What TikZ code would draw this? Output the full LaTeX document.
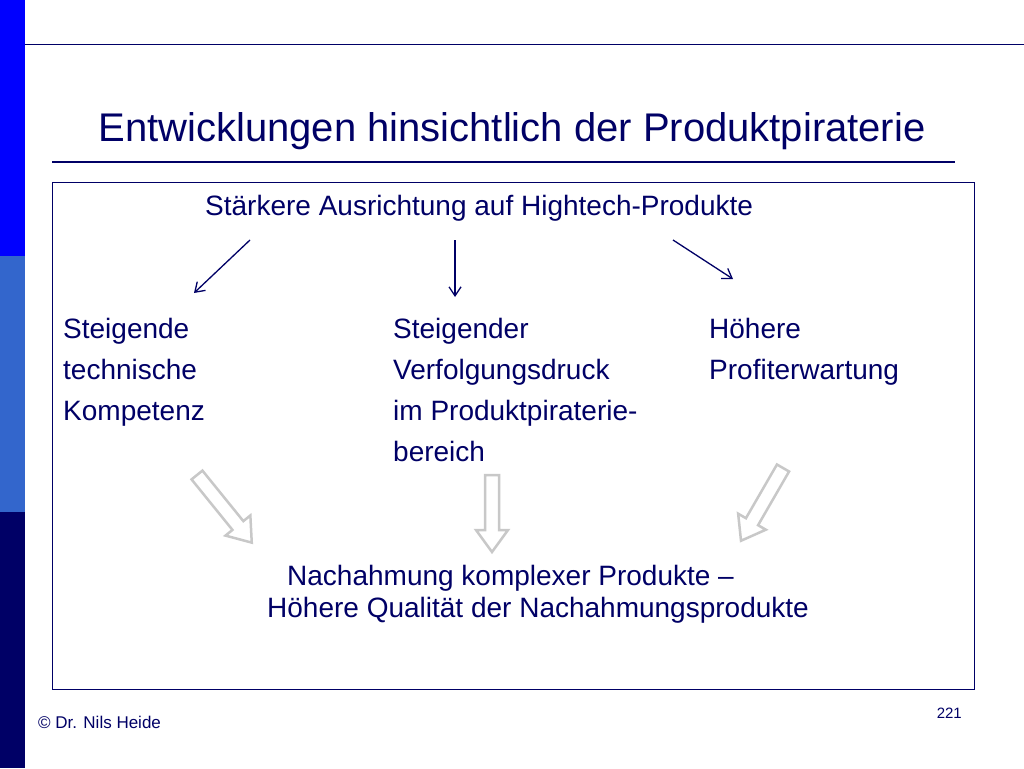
\documentclass[tikz,border=0pt]{standalone}
\usepackage{fontspec}
\setmainfont{Liberation Sans}
\definecolor{navy}{RGB}{0,0,102}
\definecolor{bblue}{RGB}{0,0,255}
\definecolor{mblue}{RGB}{51,102,204}
\definecolor{hgray}{RGB}{200,200,200}
\tikzset{
  txt/.style={anchor=base west,inner sep=0pt,text=navy,font=\fontsize{28}{28}\selectfont},
  thin/.style={draw=navy,line width=1.3pt,-{Straight Barb[length=9pt,width=12pt]}},
  hollow/.style={draw=hgray,line width=2.5pt,fill=white,line join=miter}
}
\usetikzlibrary{arrows.meta}
\newcommand{\hollowarrow}[3]{% start, angle, length
  \begin{scope}[shift={#1},rotate=#2]
    \draw[hollow] (0,-7) -- (#3-22,-7) -- (#3-22,-16) -- (#3,0) -- (#3-22,16) -- (#3-22,7) -- (0,7) -- cycle;
  \end{scope}}
\begin{document}
\begin{tikzpicture}[x=1pt,y=-1pt]
\useasboundingbox (0,0) rectangle (1024,768);
\fill[white] (0,0) rectangle (1024,768);
\fill[bblue] (0,0) rectangle (25,256);
\fill[mblue] (0,256) rectangle (25,512);
\fill[navy] (0,512) rectangle (25,768);
\draw[navy,line width=1pt] (25,45) -- (1024,45);
\node[anchor=base,inner sep=0pt,text=navy,font=\fontsize{40}{40}\selectfont] (title) at (512,141) {Entwicklungen hinsichtlich der Produktpiraterie};
\draw[navy,line width=2pt] (52,162) -- (955,162);
\draw[navy,line width=0.8pt] (52,182) rectangle (974,689);
\node[txt] (top) at (205,215) {Stärkere Ausrichtung auf Hightech-Produkte};
\coordinate (a1s) at (250,240); \coordinate (a1e) at (194,293);
\coordinate (a2s) at (455,240); \coordinate (a2e) at (455,297);
\coordinate (a3s) at (673,240); \coordinate (a3e) at (733,279);
\draw[thin] (a1s) -- (a1e);
\draw[thin] (a2s) -- (a2e);
\draw[thin] (a3s) -- (a3e);
\node[txt] (l1) at (63,338) {Steigende};
\node[txt] (l2) at (63,379) {technische};
\node[txt] (l3) at (63,420) {Kompetenz};
\node[txt] (m1) at (393,338) {Steigender};
\node[txt] (m2) at (393,379) {Verfolgungsdruck};
\node[txt] (m3) at (393,420) {im Produktpiraterie-};
\node[txt] (m4) at (393,461) {bereich};
\node[txt] (r1) at (709,338) {Höhere};
\node[txt] (r2) at (709,379) {Profiterwartung};
\hollowarrow{(197,475)}{-51}{87}
\hollowarrow{(492,475)}{-90}{77}
\hollowarrow{(783,468)}{-120}{84}
\node[txt] (b1) at (287,585) {Nachahmung komplexer Produkte –};
\node[txt] (b2) at (267,617) {Höhere Qualität der Nachahmungsprodukte};
\node[anchor=base west,inner sep=0pt,text=navy,font=\fontsize{17}{17}\selectfont] (foot) at (38,728) {© Dr. Nils Heide};
\node[anchor=base east,inner sep=0pt,text=navy,font=\fontsize{15}{15}\selectfont] (num) at (962,718) {221};
\end{tikzpicture}
\end{document}
